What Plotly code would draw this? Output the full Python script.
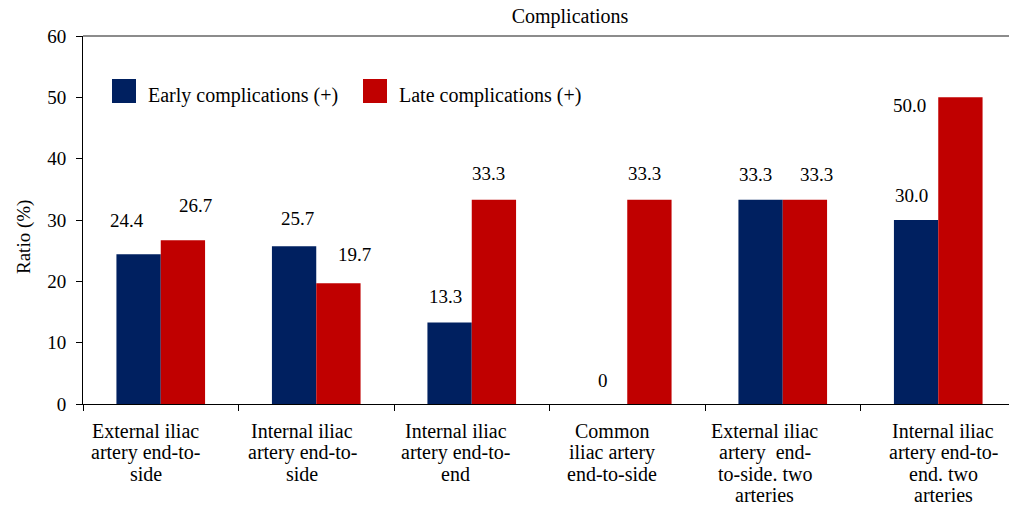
import plotly.graph_objects as go

# ---------------- data ----------------
categories = [
    "External iliac artery end-to-side",
    "Internal iliac artery end-to-side",
    "Internal iliac artery end-to-end",
    "Common iliac artery end-to-side",
    "External iliac artery end-to-side. two arteries",
    "Internal iliac artery end-to-end. two arteries",
]
tick_labels = [
    ["External iliac", "artery end-to-", "side"],
    ["Internal iliac", "artery end-to-", "side"],
    ["Internal iliac", "artery end-to-", "end"],
    ["Common", "iliac artery", "end-to-side"],
    ["External iliac", "artery  end-", "to-side. two", "arteries"],
    ["Internal iliac", "artery end-to-", "end. two", "arteries"],
]
series_names = ["Early complications (+)", "Late complications (+)"]
early_values = [24.4, 25.7, 13.3, 0, 33.3, 30.0]
late_values = [26.7, 19.7, 33.3, 33.3, 33.3, 50.0]
early_text = ["24.4", "25.7", "13.3", "0", "33.3", "30.0"]
late_text = ["26.7", "19.7", "33.3", "33.3", "33.3", "50.0"]
y_ticks = [0, 10, 20, 30, 40, 50, 60]

# ---------------- style / layout ----------------
FONT = '"Liberation Serif", "Times New Roman", serif'
FS_NUM = 19
FS_TXT = 20
BLUE = "#002060"
RED = "#C00000"
W, H = 1009, 508
ML, MT, MB = 83, 36, 104
PLOT_W = W - ML
CAT_PX = 155.5           # pixels per category in the reference
HALF_BAR = 22.15         # half bar width in px
LINE_H = 21.3            # tick label line spacing in px
FIRST_LINE = 27          # first tick label line centre below axis

# label offsets relative to bar top-centre (dx, dy in px)
early_off = [(-11.6, 34), (3, 28), (-4.5, 26), (-2, 24), (-5, 25), (-5, 25)]
late_off = [(13, 35), (16, 29), (-5, 26), (-5, 26), (12, 25), (-51, -8)]
tick_xshift = [-15, -14, -16, -15, -18, 5]

fig = go.Figure()
fig.add_trace(go.Bar(x=categories, y=early_values, name=series_names[0],
                     marker=dict(color=BLUE, line=dict(width=0))))
fig.add_trace(go.Bar(x=categories, y=late_values, name=series_names[1],
                     marker=dict(color=RED, line=dict(width=0))))

numfont = dict(family=FONT, size=FS_NUM, color="black")
txtfont = dict(family=FONT, size=FS_TXT, color="black")
ann = []
for i, c in enumerate(categories):
    dx, dy = early_off[i]
    ann.append(dict(x=c, y=early_values[i], xref="x", yref="y", text=early_text[i],
                    showarrow=False, xanchor="center", yanchor="middle",
                    xshift=-HALF_BAR + dx, yshift=dy, font=numfont))
    dx, dy = late_off[i]
    ann.append(dict(x=c, y=late_values[i], xref="x", yref="y", text=late_text[i],
                    showarrow=False, xanchor="center", yanchor="middle",
                    xshift=HALF_BAR + dx, yshift=dy, font=numfont))
    for k, line in enumerate(tick_labels[i]):
        ann.append(dict(x=c, y=0, xref="x", yref="y", text=line,
                        showarrow=False, xanchor="center", yanchor="middle",
                        xshift=tick_xshift[i], yshift=-(FIRST_LINE + k * LINE_H),
                        font=txtfont))

def px_x(px):
    return (px - ML) / PLOT_W

def px_y(py):
    return (H - MB - py) / (H - MB - MT)

# y-axis title
ann.append(dict(x=px_x(24), y=px_y(237), xref="paper", yref="paper",
                text="Ratio (%)", textangle=-90, showarrow=False,
                xanchor="center", yanchor="middle", font=numfont))
# manual legend
shapes = []
leg = [(112, BLUE, 146, series_names[0]), (363, RED, 397, series_names[1])]
for sx, col, tx, name in leg:
    shapes.append(dict(type="rect", xref="paper", yref="paper",
                       x0=px_x(sx), x1=px_x(sx + 24), y0=px_y(103), y1=px_y(79),
                       fillcolor=col, line=dict(width=0)))
    ann.append(dict(x=px_x(tx), y=px_y(96), xref="paper", yref="paper",
                    text=name, showarrow=False, xanchor="left", yanchor="middle",
                    font=txtfont))
# top border line
shapes.append(dict(type="line", xref="paper", yref="paper", x0=0, x1=1, y0=1, y1=1,
                   line=dict(color="#666666", width=1.3)))

x_max = -0.5 + PLOT_W / CAT_PX

fig.update_layout(
    width=W, height=H,
    margin=dict(l=ML, r=0, t=MT, b=MB, pad=0),
    paper_bgcolor="white", plot_bgcolor="white",
    barmode="group", bargap=0.43, bargroupgap=0,
    showlegend=False,
    title=dict(text="Complications", x=570 / W, xref="container", xanchor="center",
               y=1 - 16 / H, yref="container", yanchor="middle", font=txtfont),
    font=numfont,
    annotations=ann, shapes=shapes,
    xaxis=dict(type="category", range=[-0.5, x_max], showticklabels=False,
               ticks="outside", ticklen=6, tickcolor="black", tickwidth=1,
               tickson="boundaries", showline=True, linecolor="black", linewidth=1,
               showgrid=False, zeroline=False),
    yaxis=dict(range=[0, 60], tickvals=y_ticks, ticks="outside", ticklen=6,
               tickcolor="black", tickwidth=1, showline=True, linecolor="black",
               linewidth=1, showgrid=False, zeroline=False,
               ticklabelstandoff=6, tickfont=numfont),
)

fig.write_html("out.html", config={"displayModeBar": False},
               post_script="document.body.style.margin='0';document.body.style.overflow='hidden';")
